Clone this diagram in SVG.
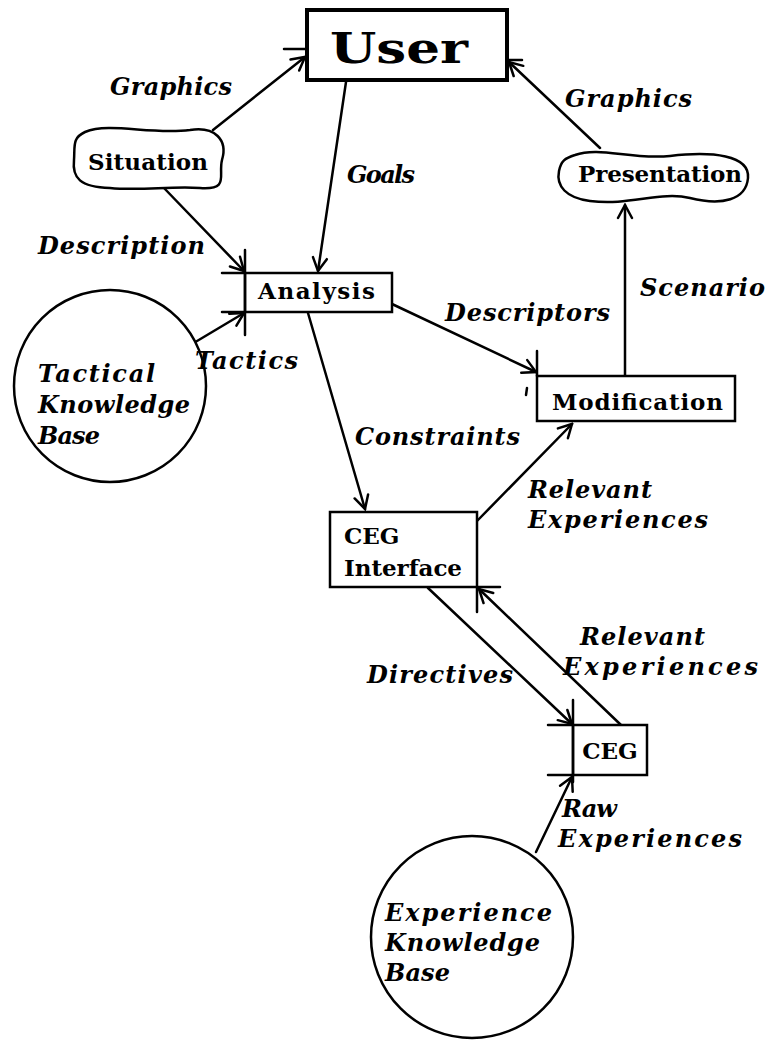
<svg xmlns="http://www.w3.org/2000/svg" width="778" height="1043" viewBox="0 0 778 1043">
<style>
.ln{stroke:#000;stroke-width:2.5;fill:none;stroke-linecap:round}
.bx{stroke:#000;stroke-width:2.5;fill:#fff}
.nt{font-family:"DejaVu Serif","Liberation Serif",serif;font-weight:bold;font-size:23px;fill:#000}
.lb{font-family:"DejaVu Serif","Liberation Serif",serif;font-weight:bold;font-style:italic;font-size:24px;fill:#000}
</style>
<defs>
<marker id="ah" viewBox="-16 -9 18 18" refX="0" refY="0" markerWidth="18" markerHeight="18" markerUnits="userSpaceOnUse" orient="auto">
<path d="M-13,-7 L0,0 L-13,7" fill="none" stroke="#000" stroke-width="2.5" stroke-linecap="round"/>
</marker>
</defs>
<rect width="778" height="1043" fill="#fff"/>

<g id="connectors">
<line class="ln" x1="213" y1="130" x2="305" y2="57" marker-end="url(#ah)"/>
<line class="ln" x1="346" y1="82" x2="318" y2="271" marker-end="url(#ah)"/>
<line class="ln" x1="600" y1="148" x2="509" y2="62" marker-end="url(#ah)"/>
<line class="ln" x1="163" y1="187" x2="244" y2="271" marker-end="url(#ah)"/>
<line class="ln" x1="187" y1="347" x2="244" y2="313" marker-end="url(#ah)"/>
<line class="ln" x1="392" y1="304" x2="536" y2="372" marker-end="url(#ah)"/>
<line class="ln" x1="625" y1="376" x2="625" y2="205" marker-end="url(#ah)"/>
<line class="ln" x1="308" y1="313" x2="365" y2="509" marker-end="url(#ah)"/>
<line class="ln" x1="477" y1="521" x2="572" y2="424" marker-end="url(#ah)"/>
<line class="ln" x1="428" y1="588" x2="572" y2="724" marker-end="url(#ah)"/>
<line class="ln" x1="621" y1="725" x2="479" y2="589" marker-end="url(#ah)"/>
<line class="ln" x1="536" y1="852" x2="572" y2="777" marker-end="url(#ah)"/>
</g>

<g id="user">
<rect x="307" y="10" width="200" height="70" fill="#fff" stroke="#000" stroke-width="4"/>
<line class="ln" x1="284" y1="49" x2="306" y2="49"/>
<line class="ln" x1="508" y1="60" x2="522" y2="60"/>
<text x="330" y="63" font-family="'DejaVu Serif','Liberation Serif',serif" font-weight="bold" font-size="42" textLength="138" lengthAdjust="spacingAndGlyphs">User</text>
</g>

<g id="situation">
<path class="bx" d="M85,132 C110,122 150,135 190,130 C215,126 228,140 222,160 C218,176 230,190 200,188 C170,186 140,191 110,188 C80,187 72,178 74,160 C75,146 72,138 85,132 Z"/>
<text class="nt" x="88" y="170" textLength="120">Situation</text>
</g>

<g id="presentation">
<path class="bx" d="M575,155 C600,146 630,160 670,156 C712,151 750,155 748,178 C746,200 722,206 690,198 C660,191 630,206 590,201 C566,198 556,186 559,171 C561,161 565,158 575,155 Z"/>
<text class="nt" x="578" y="182" textLength="164">Presentation</text>
</g>

<g id="analysis">
<rect class="bx" x="245" y="273" width="147" height="39"/>
<line class="ln" x1="245" y1="250" x2="245" y2="335"/>
<line class="ln" x1="222" y1="273" x2="245" y2="273"/>
<line class="ln" x1="222" y1="312" x2="245" y2="312"/>
<text class="nt" x="258" y="299" textLength="117">Analysis</text>
</g>

<g id="tactical-kb">
<circle class="bx" cx="110" cy="386" r="96"/>
<text class="lb" x="38" y="382" textLength="117">Tactical</text>
<text class="lb" x="38" y="413" textLength="152">Knowledge</text>
<text class="lb" x="38" y="444" textLength="62">Base</text>
</g>

<g id="modification">
<rect class="bx" x="537" y="376" width="198" height="45"/>
<line class="ln" x1="537" y1="351" x2="537" y2="376"/>
<line class="ln" x1="527" y1="388" x2="526" y2="395"/>
<text class="nt" x="552" y="410" textLength="171">Modification</text>
</g>

<g id="ceg-interface">
<rect class="bx" x="330" y="512" width="147" height="75"/>
<line class="ln" x1="477" y1="587" x2="477" y2="612"/>
<line class="ln" x1="477" y1="587" x2="500" y2="587"/>
<text class="nt" x="344" y="544">CEG</text>
<text class="nt" x="344" y="576" textLength="118">Interface</text>
</g>

<g id="ceg">
<rect class="bx" x="573" y="725" width="74" height="50"/>
<line class="ln" x1="573" y1="700" x2="573" y2="782"/>
<line class="ln" x1="548" y1="725" x2="573" y2="725"/>
<line class="ln" x1="548" y1="775" x2="573" y2="775"/>
<text class="nt" x="610" y="759" text-anchor="middle">CEG</text>
</g>

<g id="experience-kb">
<circle class="bx" cx="472" cy="937" r="101"/>
<text class="lb" x="385" y="921" textLength="167">Experience</text>
<text class="lb" x="385" y="951" textLength="155">Knowledge</text>
<text class="lb" x="385" y="981" textLength="65">Base</text>
</g>

<g id="labels">
<text class="lb" x="110" y="95" textLength="122">Graphics</text>
<text class="lb" x="347" y="183" textLength="68">Goals</text>
<text class="lb" x="565" y="107" textLength="127">Graphics</text>
<text class="lb" x="38" y="254" textLength="167">Description</text>
<text class="lb" x="445" y="321" textLength="165">Descriptors</text>
<text class="lb" x="640" y="296" textLength="125">Scenario</text>
<text class="lb" x="195" y="369" textLength="103">Tactics</text>
<text class="lb" x="355" y="445" textLength="165">Constraints</text>
<text class="lb" x="528" y="498" textLength="124">Relevant</text>
<text class="lb" x="528" y="528" textLength="180">Experiences</text>
<text class="lb" x="367" y="683" textLength="146">Directives</text>
<text class="lb" x="580" y="645" textLength="125">Relevant</text>
<text class="lb" x="563" y="675" textLength="195">Experiences</text>
<text class="lb" x="562" y="817" textLength="55">Raw</text>
<text class="lb" x="558" y="847" textLength="184">Experiences</text>
</g>
</svg>
